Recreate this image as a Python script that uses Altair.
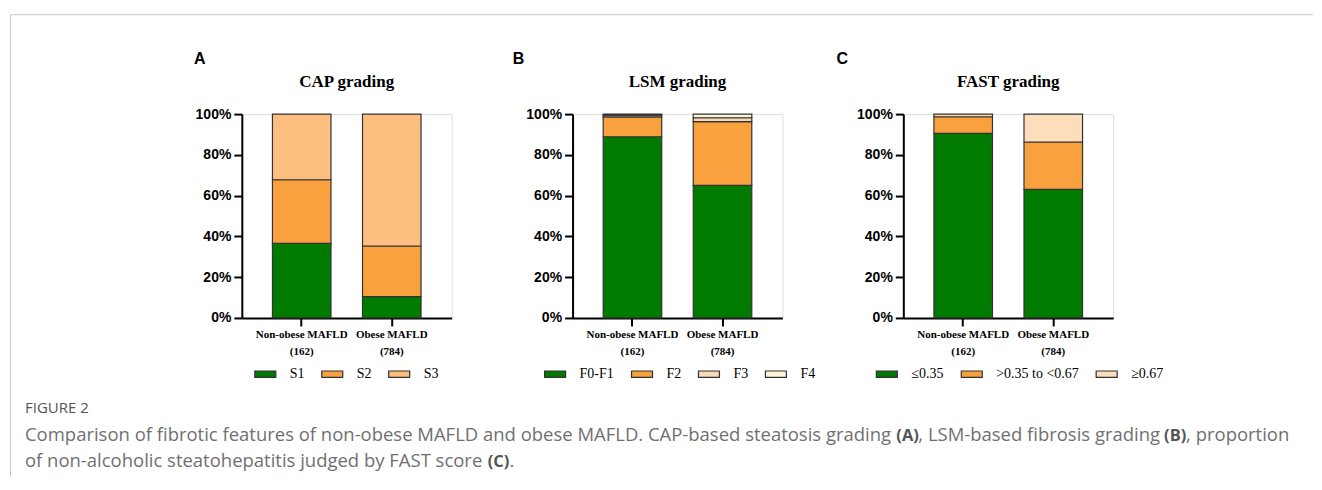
import altair as alt
import pandas as pd

# ---------------- data ----------------
groups = ["Non-obese MAFLD", "Obese MAFLD"]
group_n = [162, 784]

cap_title = "CAP grading"
cap_grades = ["S1", "S2", "S3"]
cap_nonobese = [36.6, 31.2, 32.2]
cap_obese = [10.5, 24.8, 64.7]
cap_colors = ["#007B00", "#F9A03F", "#FDBF80"]

lsm_title = "LSM grading"
lsm_grades = ["F0-F1", "F2", "F3", "F4"]
lsm_nonobese = [88.9, 9.7, 0.9, 0.5]
lsm_obese = [65.0, 31.3, 1.9, 1.8]
lsm_colors = ["#007B00", "#F9A03F", "#F9D8BA", "#FFF6D8"]

fast_title = "FAST grading"
fast_grades = ["≤0.35", ">0.35 to <0.67", "≥0.67"]
fast_nonobese = [90.5, 8.2, 1.3]
fast_obese = [63.1, 23.2, 13.7]
fast_colors = ["#007B00", "#F9A03F", "#FEDDBB"]

y_ticks = [0, 0.2, 0.4, 0.6, 0.8, 1.0]

panel_letters = ["A", "B", "C"]
figure_label = "FIGURE 2"
caption_1a = "Comparison of fibrotic features of non-obese MAFLD and obese MAFLD. CAP-based steatosis grading"
caption_1b = ", LSM-based fibrosis grading"
caption_1c = ", proportion"
caption_2a = "of non-alcoholic steatohepatitis judged by FAST score"
caption_2b = "."

# ---------------- layout constants ----------------
W, H = 210, 204
OX, OY = 241, 113  # page position of panel A plot origin

SERIF = "Liberation Serif"
SANS = "Liberation Sans"
CAPFONT = "Open Sans"

one = pd.DataFrame({"k": [0]})


def make_df(grades, nonob, ob):
    rows = []
    for g, n, vals in zip(groups, group_n, [nonob, ob]):
        for i, (gr, v) in enumerate(zip(grades, vals)):
            rows.append({"group": f"{g}\n({n})", "grade": gr, "order": i, "value": v / 100})
    return pd.DataFrame(rows)


def bars(grades, nonob, ob, colors, legend_x):
    df = make_df(grades, nonob, ob)
    return alt.Chart(df).mark_bar(stroke="#333333", strokeWidth=1.2).encode(
        x=alt.X(
            "group:N",
            sort=None,
            scale=alt.Scale(paddingInner=0.35, paddingOuter=0.34),
            axis=alt.Axis(
                title=None,
                labelAngle=0,
                labelExpr="split(datum.label, '\\n')",
                labelFont=SERIF,
                labelFontWeight="bold",
                labelFontSize=11,
                labelColor="black",
                labelLineHeight=17,
                labelPadding=3,
                labelBaseline="top",
                labelOverlap=False,
                labelLimit=0,
                tickSize=8,
                tickWidth=2,
                tickColor="black",
                domainColor="black",
                domainWidth=2,
            ),
        ),
        y=alt.Y(
            "value:Q",
            stack="zero",
            scale=alt.Scale(domain=[0, 1], nice=False),
            axis=alt.Axis(
                title=None,
                values=y_ticks,
                format=".0%",
                grid=False,
                labelFont=SANS,
                labelFontWeight="bold",
                labelFontSize=14,
                labelColor="black",
                labelPadding=3,
                tickSize=8,
                tickWidth=2,
                tickColor="black",
                domainColor="black",
                domainWidth=2,
            ),
        ),
        color=alt.Color(
            "grade:N",
            sort=grades,
            scale=alt.Scale(domain=grades, range=colors),
            legend=alt.Legend(
                title=None,
                orient="none",
                legendX=legend_x,
                legendY=248.5,
                direction="horizontal",
                symbolType="M-1,-0.3H1V0.3H-1Z",
                symbolSize=441,
                symbolStrokeColor="#333333",
                symbolStrokeWidth=1.2,
                symbolOpacity=1,
                labelFont=SERIF,
                labelFontSize=14,
                labelColor="black",
                labelOffset=13,
                labelLimit=0,
                columnPadding=14,
            ),
        ),
        order=alt.Order("order:Q", sort="ascending"),
    )


def txt(s, px, py, **kw):
    return alt.Chart(one).mark_text(text=s, **kw).encode(
        x=alt.value(px - OX), y=alt.value(py - OY)
    )


# decorations (placed in page coordinates relative to panel A)
border_left = alt.Chart(one).mark_rule(color="#c8c8c8", strokeWidth=1).encode(
    x=alt.value(9.5 - OX), y=alt.value(13.5 - OY), y2=alt.value(476 - OY)
)
border_top = alt.Chart(one).mark_rule(color="#c8c8c8", strokeWidth=1).encode(
    x=alt.value(9.5 - OX), x2=alt.value(1313 - OX), y=alt.value(13.5 - OY)
)

letter_kw = dict(font=SANS, fontSize=16, fontWeight="bold", color="black", align="center", baseline="middle")
title_kw = dict(font=SERIF, fontSize=17, fontWeight="bold", color="black", align="center", baseline="middle")
cap_kw = dict(font=CAPFONT, fontSize=18.5, color="#707070", align="left", baseline="alphabetic")
capb_kw = dict(font=CAPFONT, fontSize=16.5, fontWeight="bold", color="#555555", align="left", baseline="alphabetic")

L1, L2 = 440, 466
decor = [
    border_left,
    border_top,
    txt(panel_letters[0], 199, 58, **letter_kw),
    txt(panel_letters[1], 518, 58, **letter_kw),
    txt(panel_letters[2], 842, 58, **letter_kw),
    txt(cap_title, 346, 81, **title_kw),
    txt(lsm_title, 677, 81, **title_kw),
    txt(fast_title, 1008, 81, **title_kw),
    txt(figure_label, 24, 407, font=CAPFONT, fontSize=15, color="#555555", align="left", baseline="middle"),
    txt(caption_1a, 24, L1, **cap_kw),
    txt("(A)", 896, L1, **capb_kw),
    txt(caption_1b, 918, L1, **cap_kw),
    txt("(B)", 1164, L1, **capb_kw),
    txt(caption_1c, 1186, L1, **cap_kw),
    txt(caption_2a, 24, L2, **cap_kw),
    txt("(C)", 487, L2, **capb_kw),
    txt(caption_2b, 509, L2, **cap_kw),
]

panel_a = alt.layer(
    bars(cap_grades, cap_nonobese, cap_obese, cap_colors, 12), *decor
).properties(width=W, height=H)
panel_b = bars(lsm_grades, lsm_nonobese, lsm_obese, lsm_colors, -29).properties(width=W, height=H)
panel_c = bars(fast_grades, fast_nonobese, fast_obese, fast_colors, -28).properties(width=W, height=H)

chart = (
    alt.hconcat(panel_a, panel_b, panel_c, spacing=121, bounds="flush")
    .resolve_scale(x="independent", y="independent", color="independent")
    .resolve_legend(color="independent")
    .properties(padding={"left": 1, "top": 5, "right": 0, "bottom": 0})
    .configure_view(stroke=None)
    .configure(background="white")
)

chart.save("out.html", embed_options={"renderer": "svg", "actions": False})
